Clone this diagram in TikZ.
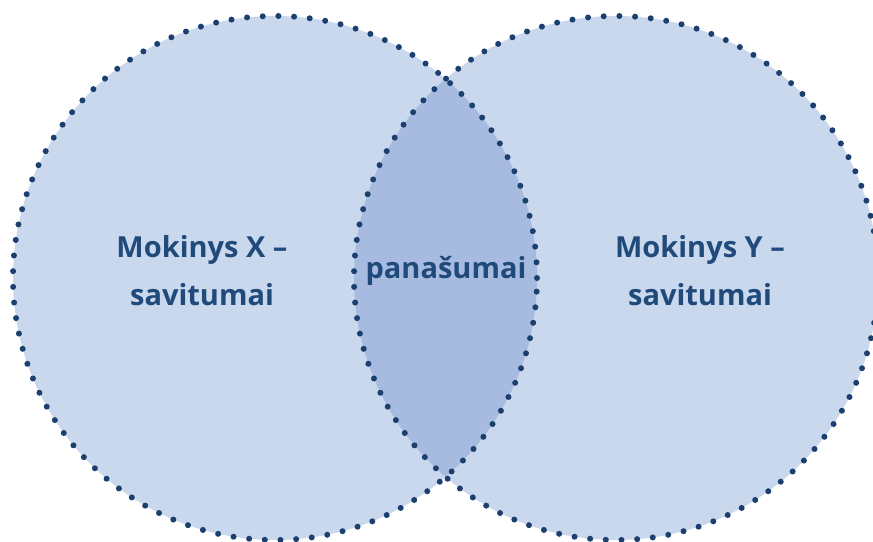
\documentclass[tikz,border=0pt]{standalone}
\usepackage{fontspec}
\setmainfont{Open Sans}
\usetikzlibrary{positioning}
\definecolor{setfill}{HTML}{CAD8EE}
\definecolor{lensfill}{HTML}{A7BBE0}
\definecolor{dotblue}{HTML}{1B3F6E}
\definecolor{textblue}{HTML}{1F4A7A}

\begin{document}
\begin{tikzpicture}[x=1pt,y=1pt]
  \tikzstyle{set edge}=[draw=dotblue,line width=6pt,line cap=round,dash pattern=on 0pt off 15.7pt]
  \tikzstyle{set label}=[text=textblue,align=center,font=\bfseries\fontsize{29}{48}\selectfont]

  \useasboundingbox (0,0) rectangle (873,541);
  \coordinate (CX) at (275,263);
  \coordinate (CY) at (616,263);

  \fill[setfill] (CX) circle (262pt);
  \fill[setfill] (CY) circle (262pt);
  \begin{scope}
    \clip (CX) circle (262pt);
    \fill[lensfill] (CY) circle (262pt);
  \end{scope}
  \path[set edge] (CX) circle (262pt);
  \path[set edge] (CY) circle (262pt);

  \node[set label] (X) at (202,270) {Mokinys X --\\savitumai};
  \node[set label] (P) at (446,270) {panašumai};
  \node[set label] (Y) at (700,270) {Mokinys Y --\\savitumai};
\end{tikzpicture}
\end{document}
